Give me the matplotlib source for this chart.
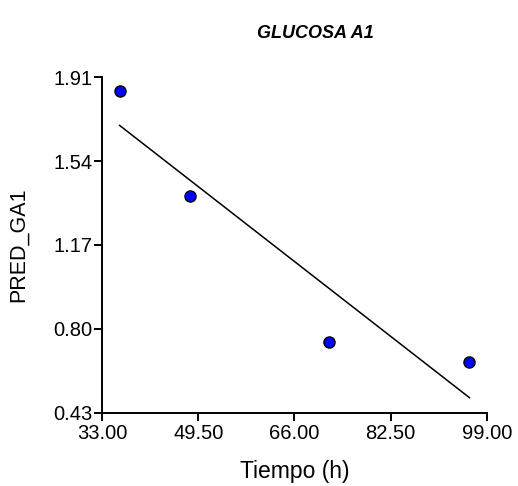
import numpy as np
import matplotlib
matplotlib.use("Agg")
import matplotlib.pyplot as plt

plt.rcParams["font.family"] = ["Liberation Sans", "DejaVu Sans"]

# data
tiempo = [36.0, 48.0, 72.0, 96.0]
pred_ga1 = [1.85, 1.385, 0.741, 0.652]
x_ticks = [33.0, 49.5, 66.0, 82.5, 99.0]
y_ticks = [0.43, 0.80, 1.17, 1.54, 1.91]

fig = plt.figure(figsize=(5.18, 4.86), dpi=100)
ax = fig.add_axes([0.197, 0.151, 0.743, 0.690])

# least squares line over the points
slope, icpt = np.polyfit(tiempo, pred_ga1, 1)
xl = np.array([min(tiempo), max(tiempo)])
ax.plot(xl, icpt + slope * xl, color="black", lw=1.1, zorder=2)

ax.plot(tiempo, pred_ga1, ls="none", marker="o", markersize=8,
        markerfacecolor="#0000ff", markeredgecolor="black",
        markeredgewidth=1.0, zorder=3, clip_on=False)

ax.set_xlim(x_ticks[0], x_ticks[-1])
ax.set_ylim(y_ticks[0], y_ticks[-1])
ax.set_xticks(x_ticks)
ax.set_xticklabels([f"{v:.2f}" for v in x_ticks])
ax.set_yticks(y_ticks)
ax.set_yticklabels([f"{v:.2f}" for v in y_ticks])

for sp in ["top", "right"]:
    ax.spines[sp].set_visible(False)
for sp in ["left", "bottom"]:
    ax.spines[sp].set_linewidth(1.4)
ax.tick_params(axis="both", direction="out", length=6, width=1.4,
               labelsize=14.5, color="black")
ax.tick_params(axis="y", pad=1)
ax.tick_params(axis="x", pad=2)

ax.set_xlabel("Tiempo (h)", fontsize=16.5)
ax.xaxis.set_label_coords(0.5, -0.14)
ax.set_ylabel("PRED_GA1", fontsize=15.5)
ax.yaxis.set_label_coords(-0.19, 0.5)

fig.text(315 / 518, 1 - 33 / 486, "GLUCOSA A1", fontsize=13, fontweight="bold",
         style="italic", ha="center", va="center")

fig.savefig("out.png", dpi=100, facecolor="white")
